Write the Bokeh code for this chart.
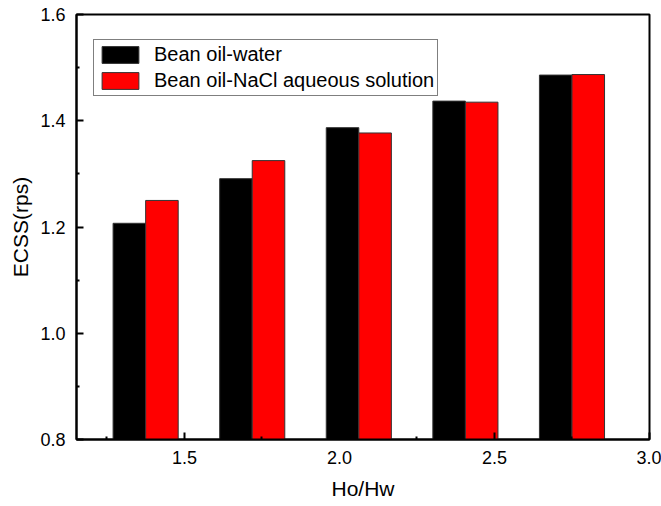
from bokeh.plotting import figure
from bokeh.models import ColumnDataSource, FixedTicker, Range1d, Legend, LegendItem, NumeralTickFormatter
from bokeh.transform import dodge
from bokeh.embed import file_html
from bokeh.resources import INLINE

# data
ho_hw = [1.375, 1.71875, 2.0625, 2.40625, 2.75]
water = [1.207, 1.291, 1.387, 1.437, 1.486]
nacl = [1.250, 1.325, 1.377, 1.435, 1.487]
series_names = ["Bean oil-water", "Bean oil-NaCl aqueous solution"]
x_ticks = [1.5, 2.0, 2.5, 3.0]
x_minor = [1.25, 1.75, 2.25, 2.75]
y_ticks = [0.8, 1.0, 1.2, 1.4, 1.6]
y_minor = [0.9, 1.1, 1.3, 1.5]

bar_w = 0.105
FONT = "Liberation Sans"

src = ColumnDataSource(dict(x=ho_hw, water=water, nacl=nacl))

p = figure(width=661, height=506, output_backend="svg", toolbar_location=None,
           x_range=Range1d(1.152, 3.0), y_range=Range1d(0.8, 1.6),
           min_border_left=76, min_border_right=12, min_border_top=14, min_border_bottom=67)
p.background_fill_color = "white"
p.border_fill_color = "white"
p.grid.visible = False
p.outline_line_color = "black"
p.outline_line_width = 2

r1 = p.vbar(x=dodge("x", -bar_w / 2), top="water", bottom=0.8, width=bar_w, source=src,
            fill_color="black", line_color="#333333", line_width=1)
r2 = p.vbar(x=dodge("x", bar_w / 2), top="nacl", bottom=0.8, width=bar_w, source=src,
            fill_color="red", line_color="#333333", line_width=1)

for ax in (p.xaxis[0], p.yaxis[0]):
    ax.axis_line_width = 2
    ax.axis_line_color = "black"
    ax.major_tick_in = 7
    ax.major_tick_out = 0
    ax.minor_tick_in = 3
    ax.minor_tick_out = 0
    ax.major_tick_line_width = 2
    ax.minor_tick_line_width = 2
    ax.major_label_text_font = FONT
    ax.major_label_text_font_size = "18px"
    ax.major_label_text_color = "black"
    ax.axis_label_text_font = FONT
    ax.axis_label_text_font_size = "21px"
    ax.axis_label_text_font_style = "normal"
    ax.axis_label_text_color = "black"

p.xaxis.ticker = FixedTicker(ticks=x_ticks, minor_ticks=x_minor)
p.yaxis.ticker = FixedTicker(ticks=y_ticks, minor_ticks=y_minor)
p.xaxis.formatter = NumeralTickFormatter(format="0.0")
p.yaxis.formatter = NumeralTickFormatter(format="0.0")
p.xaxis.major_label_standoff = 11
p.yaxis.major_label_standoff = 11
p.xaxis.axis_label = "Ho/Hw"
p.yaxis.axis_label = "ECSS(rps)"
p.xaxis.axis_label_standoff = 10
p.yaxis.axis_label_standoff = 5

legend = Legend(items=[LegendItem(label=series_names[0], renderers=[r1]),
                       LegendItem(label=series_names[1], renderers=[r2])],
                location=(17, 343))
legend.label_text_font = FONT
legend.label_text_font_size = "20px"
legend.label_text_color = "black"
legend.glyph_width = 46
legend.glyph_height = 21
legend.label_height = 21
legend.spacing = 3
legend.padding = 3
legend.margin = 0
legend.label_standoff = 11
legend.border_line_color = "black"
legend.border_line_width = 1
legend.background_fill_alpha = 1
p.add_layout(legend)

open("out.html", "w").write(file_html(p, INLINE))
